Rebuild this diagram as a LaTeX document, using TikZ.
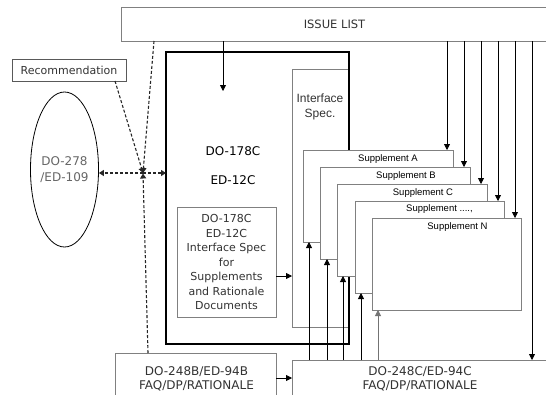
\documentclass[tikz,border=0pt]{standalone}
\usepackage{fontspec}
\setmainfont{DejaVu Sans}
\newfontfamily\supfont{Liberation Sans}
\usetikzlibrary{arrows.meta,shapes.geometric,calc}
\definecolor{bord}{HTML}{808080}
\definecolor{dtxt}{HTML}{333333}
\begin{document}
\begin{tikzpicture}[x=1pt,y=-1pt,
  gbox/.style={draw=bord, fill=white, line width=0.8pt, inner sep=0pt, outer sep=0pt, anchor=north west},
  thickbox/.style={draw=black, line width=2pt, inner sep=0pt, outer sep=0pt, anchor=north west},
  txt/.style={inner sep=0pt, align=center, text=dtxt, font=\fontsize{11}{14.5}\selectfont},
  bigtxt/.style={inner sep=0pt, align=center, text=dtxt, font=\fontsize{12}{14}\selectfont},
  suptxt/.style={inner sep=0pt, font=\supfont\fontsize{9.5}{11}\selectfont},
  arr/.style={draw=black, line width=0.8pt, -{Triangle[length=6pt,width=6pt]}},
  dsh/.style={draw=black!85, line width=1.1pt, dash pattern=on 3pt off 2pt, -{Triangle[length=5pt,width=6pt]}}]
\fill[white] (0,0) rectangle (546,394);
\clip (0,0) rectangle (546,394);
% Issue list
\node[gbox, minimum width=427pt, minimum height=34pt, text=dtxt,
      font=\fontsize{11.5}{13}\selectfont] (issue) at (121,7) {ISSUE LIST\hspace{6pt}};
% Recommendation
\node[gbox, draw=black!65, minimum width=114pt, minimum height=22pt, text=dtxt,
      font=\fontsize{11}{13}\selectfont] (rec) at (12,59) {Recommendation};
% Ellipse
\node[ellipse, draw=black, line width=0.8pt, minimum width=67pt, minimum height=155pt,
      inner sep=0pt, align=center, text=black!60, font=\fontsize{12}{16}\selectfont]
      (ell) at (64.5,169.5) {DO-278\\/ED-109};
% Interface spec box
\node[gbox, minimum width=57pt, minimum height=258pt] (ispec) at (292,69) {};
\node[inner sep=0pt, align=center, text=dtxt, font=\supfont\fontsize{12}{15.5}\selectfont]
      (ispect) at (320,107) {Interface\\Spec.};
% Inner box
\node[gbox, minimum width=99pt, minimum height=110pt] (inner) at (177,207) {};
\node[txt] (innert) at (inner.center) {DO-178C\\ED-12C\\Interface Spec\\for\\Supplements\\and Rationale\\Documents};
% Main thick box
\node[thickbox, minimum width=183pt, minimum height=292pt] (main) at (166,52) {};
\node[inner sep=0pt, font=\fontsize{12}{14}\selectfont] (do178) at (233,151) {DO-178C};
\node[inner sep=0pt, font=\fontsize{12}{14}\selectfont] (ed12) at (233,180) {ED-12C};
% Supplements
\node[gbox, minimum width=150pt, minimum height=92pt] (sA) at (303,150) {};
\node[suptxt] (sAt) at ($(sA.north)+(10,9)$) {Supplement A};
\node[gbox, minimum width=150pt, minimum height=92pt] (sB) at (320,167) {};
\node[suptxt] (sBt) at ($(sB.north)+(11,9)$) {Supplement B};
\node[gbox, minimum width=150pt, minimum height=92pt] (sC) at (337,184) {};
\node[suptxt] (sCt) at ($(sC.north)+(11,9)$) {Supplement C};
\node[gbox, minimum width=149pt, minimum height=92pt] (sD) at (355,201) {};
\node[suptxt] (sDt) at ($(sD.north)+(10,8.5)$) {Supplement ....,};
\node[gbox, minimum width=149pt, minimum height=92pt] (sN) at (372,218) {};
\node[suptxt] (sNt) at ($(sN.north)+(11,9)$) {Supplement N};
% DO-248 boxes
\node[gbox, minimum width=161pt, minimum height=52pt] (f248b) at (115,353) {};
\node[bigtxt] (f248bt) at ($(f248b.center)+(1,0)$) {DO-248B/ED-94B\\FAQ/DP/RATIONALE};
\node[gbox, minimum width=258pt, minimum height=38pt] (f248c) at (292,360) {};
\node[bigtxt] (f248ct) at ($(f248c.center)+(-1,0)$) {DO-248C/ED-94C\\FAQ/DP/RATIONALE};
% Arrows from issue list
\coordinate (mt) at (223,91);
\draw[arr] (issue.south -| mt) -- (mt);
\draw[arr] ([xshift=-6pt]sA.north east |- issue.south) -- ([xshift=-6pt]sA.north east);
\draw[arr] ([xshift=-6pt]sB.north east |- issue.south) -- ([xshift=-6pt]sB.north east);
\draw[arr] ([xshift=-6pt]sC.north east |- issue.south) -- ([xshift=-6pt]sC.north east);
\draw[arr] ([xshift=-6pt]sD.north east |- issue.south) -- ([xshift=-6pt]sD.north east);
\draw[arr] ([xshift=-6pt]sN.north east |- issue.south) -- ([xshift=-6pt]sN.north east);
\draw[arr] ([xshift=11pt]sN.north east |- issue.south) -- ([xshift=11pt]sN.north east |- f248c.north);
% Arrows up from DO-248C
\draw[arr] ([xshift=6pt]sA.south west |- f248c.north) -- ([xshift=6pt]sA.south west);
\draw[arr] ([xshift=7pt]sB.south west |- f248c.north) -- ([xshift=7pt]sB.south west);
\draw[arr] ([xshift=6pt]sC.south west |- f248c.north) -- ([xshift=6pt]sC.south west);
\draw[arr] ([xshift=6pt]sD.south west |- f248c.north) -- ([xshift=6pt]sD.south west);
\draw[arr, draw=black!55] ([xshift=6pt]sN.south west |- f248c.north) -- ([xshift=6pt]sN.south west);
% Horizontal arrows
\coordinate (h1) at ($(inner.east)+(0,14)$);
\draw[arr] (h1) -- (h1 -| ispec.west);
\coordinate (h2) at ($(f248b.north east)+(0,25)$);
\draw[arr] (h2) -- (h2 -| f248c.west);
% Dashed lines
\coordinate (j) at (143,173);
\draw[dsh] ([xshift=33pt]issue.south west) -- (j);
\draw[dsh] ([xshift=-11pt]rec.south east) -- (j);
\draw[dsh] ([xshift=33pt]f248b.north west) -- ($(j)+(0,0.5)$);
\draw[dsh] (j) -- (j -| ell.east);
\draw[dsh] (j) -- (j -| main.west);
\end{tikzpicture}
\end{document}
